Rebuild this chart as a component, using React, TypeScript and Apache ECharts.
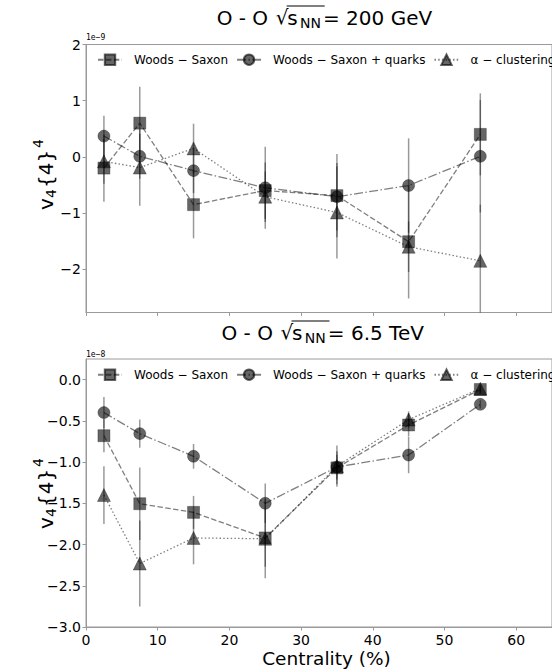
import React, { useEffect, useRef } from "react";
import * as echarts from "echarts";

// ---- data (values in units of 1e-9 for 200 GeV, 1e-8 for 6.5 TeV) ----
const centrality = [2.5, 7.5, 15, 25, 35, 45, 55];
const xTicks = [0, 10, 20, 30, 40, 50, 60];
const yTicks200 = [-2, -1, 0, 1, 2];
const yTicks65 = [-3, -2.5, -2, -1.5, -1, -0.5, 0];
const seriesNames = ["Woods − Saxon", "Woods − Saxon + quarks", "α − clustering"];

const ws200 = [-0.2, 0.6, -0.85, -0.6, -0.69, -1.51, 0.4];
const ws200Err = [0.6, 0.65, 0.6, 0.5, 0.74, 1.01, 0.73];
const wsq200 = [0.37, 0.01, -0.245, -0.55, -0.71, -0.51, 0.01];
const wsq200Err = [0.36, 0.4, 0.4, 0.73, 0.6, 0.84, 1.0];
const alpha200 = [-0.08, -0.19, 0.15, -0.71, -0.99, -1.6, -1.85];
const alpha200Err = [0.4, 0.68, 0.44, 0.45, 0.82, 0.45, 1.0];

const ws65 = [-0.68, -1.505, -1.61, -1.92, -1.07, -0.55, -0.12];
const ws65Err = [0.2, 0.44, 0.2, 0.35, 0.2, 0.14, 0.05];
const wsq65 = [-0.4, -0.655, -0.93, -1.5, -1.06, -0.915, -0.3];
const wsq65Err = [0.19, 0.17, 0.15, 0.24, 0.15, 0.22, 0.05];
const alpha65 = [-1.4, -2.23, -1.92, -1.93, -1.05, -0.485, -0.11];
const alpha65Err = [0.35, 0.52, 0.32, 0.48, 0.25, 0.1, 0.05];

const FONT = "DejaVu Sans";
const SPINE = "#9a9a9a";
const MARK = "rgba(0,0,0,0.6)";
const LINE = "rgba(0,0,0,0.5)";
const ERR = "rgba(0,0,0,0.4)";

const symbols = ["rect", "circle", "triangle"];
const symbolSizes = [12, 12, 13];
const dashes = [[5.5, 2.4], [9, 2.4, 1.5, 2.4], [1.5, 2.2]];

function lineSeries(name: string, vals: number[], idx: number, k: number) {
  return {
    type: "line",
    name,
    xAxisIndex: k,
    yAxisIndex: k,
    data: centrality.map((c, i) => [c, vals[i]]),
    symbol: symbols[idx],
    symbolSize: symbolSizes[idx],
    itemStyle: { color: MARK, borderColor: MARK, borderWidth: 0.5 },
    lineStyle: { color: LINE, width: 1.3, type: dashes[idx] },
    z: 3,
  };
}

function errSeries(vals: number[], errs: number[], k: number) {
  return {
    type: "custom",
    xAxisIndex: k,
    yAxisIndex: k,
    silent: true,
    z: 2,
    data: centrality.map((c, i) => [c, vals[i] - errs[i], vals[i] + errs[i]]),
    renderItem: (params: any, api: any) => {
      const cs = params.coordSys;
      const p1 = api.coord([api.value(0), api.value(1)]);
      const p2 = api.coord([api.value(0), api.value(2)]);
      const clamp = (y: number) => Math.max(cs.y, Math.min(cs.y + cs.height, y));
      return {
        type: "line",
        shape: { x1: p1[0], y1: clamp(p1[1]), x2: p2[0], y2: clamp(p2[1]) },
        style: { stroke: ERR, lineWidth: 1.5 },
      };
    },
  };
}

function titleEls(x0: number, y: number, rest: string) {
  const base = { fill: "#000", fontFamily: FONT, verticalAlign: "middle", align: "left" };
  return [
    { type: "text", x: x0, y, style: { ...base, text: "O - O", fontSize: 20 } },
    { type: "text", x: x0 + 59, y: y - 1, style: { ...base, text: "√", fontSize: 20 } },
    { type: "line", shape: { x1: x0 + 70, y1: y - 12, x2: x0 + 108, y2: y - 12 }, style: { stroke: "#000", lineWidth: 1 } },
    { type: "text", x: x0 + 70.6, y, style: { ...base, text: "s", fontSize: 20 } },
    { type: "text", x: x0 + 83.3, y: y + 5, style: { ...base, text: "NN", fontSize: 14 } },
    { type: "text", x: x0 + 106.3, y, style: { ...base, text: rest, fontSize: 20 } },
  ];
}

function ylabelEls(cx: number, cy: number) {
  const base = { fill: "#000", fontFamily: FONT, verticalAlign: "middle", align: "left" };
  return {
    type: "group",
    x: cx,
    y: cy,
    rotation: Math.PI / 2,
    children: [
      { type: "text", x: -36, y: 0, style: { ...base, text: "v", fontSize: 20 } },
      { type: "text", x: -24, y: 5, style: { ...base, text: "4", fontSize: 14 } },
      { type: "text", x: -14, y: 0, style: { ...base, text: "{4}", fontSize: 20 } },
      { type: "text", x: 26, y: -8, style: { ...base, text: "4", fontSize: 14 } },
    ],
  };
}

function makeLegend(top: number) {
  return {
    left: 97,
    top,
    width: 700,
    padding: 0,
    orient: "horizontal",
    itemWidth: 24,
    itemHeight: 13,
    itemGap: 8,
    data: seriesNames,
    selectedMode: false,
    textStyle: { fontSize: 12, fontFamily: FONT, color: "#000", padding: [0, 0, 0, 7] },
  };
}

const fmtTop = (v: number) => String(v).replace("-", "−");
const fmtBot = (v: number) => (v === 0 ? "0.0" : v.toFixed(1).replace("-", "−"));

export default function App() {
  const ref = useRef<HTMLDivElement>(null);
  useEffect(() => {
    if (!ref.current) return;
    const chart = echarts.init(ref.current, undefined, { renderer: "svg" });
    const gridW = 481.6;
    const xAxisBase = (k: number) => ({
      type: "value",
      gridIndex: k,
      min: 0,
      max: 65,
      axisLine: { show: true, onZero: false, lineStyle: { color: SPINE, width: 1 } },
      axisTick: { show: true, inside: false, length: 3.5, customValues: xTicks, lineStyle: { color: SPINE } },
      axisLabel: {
        show: k === 1,
        customValues: xTicks,
        margin: 6,
        fontSize: 14,
        fontFamily: FONT,
        color: "#000",
      },
      splitLine: { show: false },
    });
    const option: any = {
      animation: false,
      textStyle: { fontFamily: FONT },
      grid: [
        { left: 86, top: 44.5, width: gridW, height: 268, show: true, borderColor: SPINE, borderWidth: 1 },
        { left: 86, top: 359, width: gridW, height: 268, show: true, borderColor: SPINE, borderWidth: 1 },
      ],
      legend: [makeLegend(53.5), makeLegend(368.5)],
      xAxis: [xAxisBase(0), xAxisBase(1)],
      yAxis: [
        {
          type: "value",
          gridIndex: 0,
          min: -2.77,
          max: 2,
          axisLine: { show: true, onZero: false, lineStyle: { color: SPINE, width: 1 } },
          axisTick: { show: true, length: 3.5, customValues: yTicks200, lineStyle: { color: SPINE } },
          axisLabel: { customValues: yTicks200, formatter: fmtTop, margin: 5, fontSize: 14, fontFamily: FONT, color: "#000" },
          splitLine: { show: false },
        },
        {
          type: "value",
          gridIndex: 1,
          min: -3,
          max: 0.25,
          axisLine: { show: true, onZero: false, lineStyle: { color: SPINE, width: 1 } },
          axisTick: { show: true, length: 3.5, customValues: yTicks65, lineStyle: { color: SPINE } },
          axisLabel: { customValues: yTicks65, formatter: fmtBot, margin: 5, fontSize: 14, fontFamily: FONT, color: "#000" },
          splitLine: { show: false },
        },
      ],
      series: [
        errSeries(ws200, ws200Err, 0),
        errSeries(wsq200, wsq200Err, 0),
        errSeries(alpha200, alpha200Err, 0),
        lineSeries(seriesNames[0], ws200, 0, 0),
        lineSeries(seriesNames[1], wsq200, 1, 0),
        lineSeries(seriesNames[2], alpha200, 2, 0),
        errSeries(ws65, ws65Err, 1),
        errSeries(wsq65, wsq65Err, 1),
        errSeries(alpha65, alpha65Err, 1),
        lineSeries(seriesNames[0], ws65, 0, 1),
        lineSeries(seriesNames[1], wsq65, 1, 1),
        lineSeries(seriesNames[2], alpha65, 2, 1),
      ],
      graphic: [
        ...titleEls(216.7, 18, "= 200 GeV"),
        ...titleEls(221.5, 333, "= 6.5 TeV"),
        ylabelEls(46, 174),
        ylabelEls(46, 493),
        { type: "text", x: 86, y: 37, style: { text: "1e−9", fontSize: 8, fontFamily: "DejaVu Sans Mono", fill: "#000", verticalAlign: "middle" } },
        { type: "text", x: 86, y: 354, style: { text: "1e−8", fontSize: 8, fontFamily: "DejaVu Sans Mono", fill: "#000", verticalAlign: "middle" } },
        { type: "text", x: 326.5, y: 658, style: { text: "Centrality (%)", fontSize: 18.5, fontFamily: FONT, fill: "#000", align: "center", verticalAlign: "middle" } },
      ],
    };
    chart.setOption(option);
    return () => chart.dispose();
  }, []);
  return <div ref={ref} style={{ position: "absolute", left: 0, top: 0, width: 552, height: 672 }} />;
}
